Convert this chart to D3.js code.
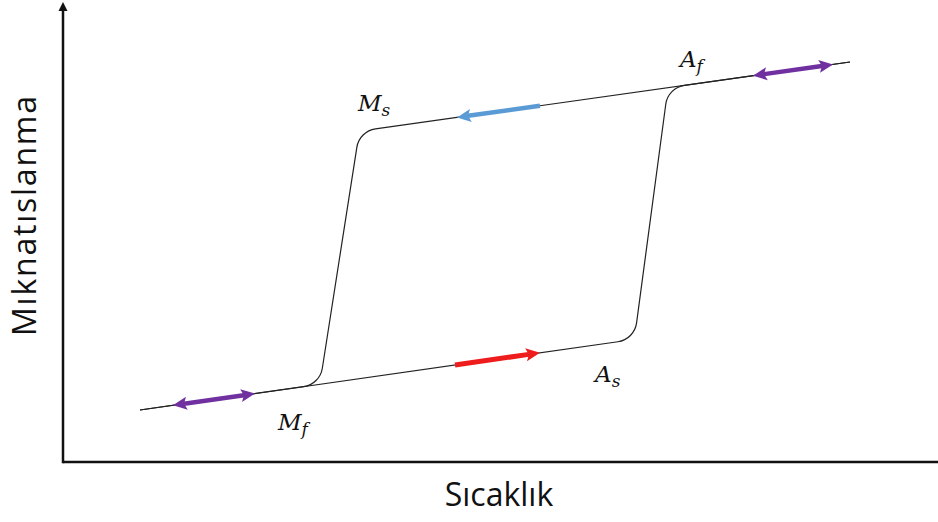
<!DOCTYPE html>
<html>
<head>
<meta charset="utf-8">
<script src="https://cdn.jsdelivr.net/npm/d3@7"></script>
<style>
  body { margin: 0; background: #fff; }
</style>
</head>
<body>
<div id="chart"></div>
<script>
// schematic hysteresis loop (temperature vs magnetisation), arbitrary units 0-100
const heatingBranch = [[8.8, 11.3], [65.3, 26.65], [69.14, 81.37], [89.94, 86.96]];
const coolingBranch = [[89.94, 86.96], [33.87, 71.91], [29.35, 16.89], [8.8, 11.3]];

// direction arrows: from -> to, double = heads at both ends
const arrowFrom = [[12.57, 12.33], [44.8, 21.09], [54.51, 77.46], [78.86, 83.98]];
const arrowTo   = [[21.94, 14.87], [54.51, 23.74], [45.03, 74.91], [88.0, 86.43]];
const arrowDouble = [true, false, false, true];
const arrowColor  = ["#7030a0", "#ee1c1c", "#5b9bd5", "#7030a0"];

// transformation temperatures
const pointNames = ["M", "A", "A", "M"];
const pointSubs  = ["s", "f", "s", "f"];
const pointPos   = [[33.71, 76.3], [70.51, 85.87], [60.8, 17.39], [24.57, 6.9]];

const xTitle = "Sıcaklık";
const yTitle = "Mıknatıslanma";

const width = 938, height = 522;
const margin = {top: 2, right: 0, bottom: 60, left: 63};

const svg = d3.select("#chart")
  .append("svg")
  .attr("width", width)
  .attr("height", height);

const x = d3.scaleLinear().domain([0, 100]).range([margin.left, width - margin.right]);
const y = d3.scaleLinear().domain([0, 100]).range([height - margin.bottom, margin.top]);

// axes: plain lines, arrow on the vertical one
const axisY0 = y(0);
svg.append("line")
  .attr("x1", x(0)).attr("x2", x(100))
  .attr("y1", axisY0).attr("y2", axisY0)
  .attr("stroke", "#111").attr("stroke-width", 2.5);

svg.append("line")
  .attr("x1", x(0)).attr("x2", x(0))
  .attr("y1", axisY0 + 1.2).attr("y2", 10)
  .attr("stroke", "#111").attr("stroke-width", 2.5);

svg.append("path")
  .attr("d", `M${x(0)},2 L${x(0) - 4.5},11 L${x(0) + 4.5},11 Z`)
  .attr("fill", "#111");

// branch with rounded corners
function branchPath(pts, r) {
  const p = d3.path();
  const px = pts.map(d => [x(d[0]), y(d[1])]);
  p.moveTo(px[0][0], px[0][1]);
  for (let i = 1; i < px.length - 1; i++) {
    p.arcTo(px[i][0], px[i][1], px[i + 1][0], px[i + 1][1], r);
  }
  const last = px[px.length - 1];
  p.lineTo(last[0], last[1]);
  return p.toString();
}

[heatingBranch, coolingBranch].forEach(b => {
  svg.append("path")
    .attr("d", branchPath(b, 22))
    .attr("fill", "none")
    .attr("stroke", "#222")
    .attr("stroke-width", 1.2);
});

// arrows
function head(tip, ux, uy, len, half) {
  const bx = tip[0] - ux * len, by = tip[1] - uy * len;
  const nx = -uy, ny = ux;
  const nb = [tip[0] - ux * len * 0.8, tip[1] - uy * len * 0.8];
  return `M${tip[0]},${tip[1]} L${bx + nx * half},${by + ny * half} L${nb[0]},${nb[1]} L${bx - nx * half},${by - ny * half} Z`;
}

arrowFrom.forEach((f, i) => {
  const a = [x(f[0]), y(f[1])];
  const b = [x(arrowTo[i][0]), y(arrowTo[i][1])];
  const dx = b[0] - a[0], dy = b[1] - a[1];
  const L = Math.hypot(dx, dy);
  const ux = dx / L, uy = dy / L;
  const len = 14, half = 6.5;
  const s = arrowDouble[i] ? [a[0] + ux * len * 0.8, a[1] + uy * len * 0.8] : a;
  const e = [b[0] - ux * len * 0.8, b[1] - uy * len * 0.8];
  const g = svg.append("g").attr("fill", arrowColor[i]);
  g.append("line")
    .attr("x1", s[0]).attr("y1", s[1])
    .attr("x2", e[0]).attr("y2", e[1])
    .attr("stroke", arrowColor[i])
    .attr("stroke-width", i === 1 ? 5 : 4.5);
  g.append("path").attr("d", head(b, ux, uy, len, half));
  if (arrowDouble[i]) g.append("path").attr("d", head(a, -ux, -uy, len, half));
});

// labels Ms, Af, As, Mf
pointNames.forEach((n, i) => {
  const t = svg.append("text")
    .attr("x", x(pointPos[i][0]))
    .attr("y", y(pointPos[i][1]))
    .attr("font-family", "'DejaVu Serif', serif")
    .attr("font-style", "italic")
    .attr("font-size", 23)
    .attr("fill", "#111");
  t.append("tspan").text(n);
  t.append("tspan")
    .attr("font-size", 17)
    .attr("dy", 5)
    .text(pointSubs[i]);
});

// axis titles
svg.append("text")
  .attr("x", 499)
  .attr("y", 506)
  .attr("text-anchor", "middle")
  .attr("font-family", "'Open Sans', sans-serif")
  .attr("font-size", 32)
  .attr("fill", "#111")
  .text(xTitle);

svg.append("text")
  .attr("transform", "translate(36,216) rotate(-90)")
  .attr("text-anchor", "middle")
  .attr("font-family", "'Open Sans', sans-serif")
  .attr("font-size", 32)
  .attr("textLength", 240)
  .attr("lengthAdjust", "spacing")
  .attr("fill", "#111")
  .text(yTitle);
</script>
</body>
</html>
